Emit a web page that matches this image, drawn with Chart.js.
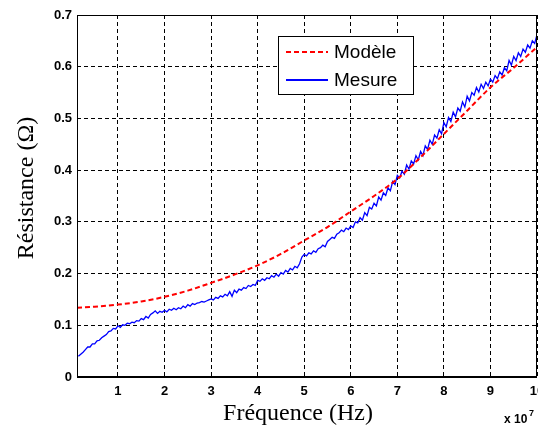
<!DOCTYPE html>
<html>
<head>
<meta charset="utf-8">
<title>Résistance en fonction de la fréquence</title>
<script src="https://cdn.jsdelivr.net/npm/chart.js@4.4.1/dist/chart.umd.min.js"></script>
<style>
  html, body { margin: 0; padding: 0; background: #fff; }
  #wrap { width: 538px; height: 430px; }
</style>
</head>
<body>
<div id="wrap"><canvas id="chartRes" width="538" height="430"></canvas></div>
<script>
// frequencies in units of 1e7 Hz, resistance in ohm
const modeleFreq = [0.12, 0.5, 1, 1.5, 2, 2.5, 3, 3.5, 4, 4.5, 5, 5.5, 6, 6.5, 7, 7.5, 8, 8.5, 9, 9.5, 10];
const modeleRes = [0.134, 0.136, 0.140, 0.146, 0.155, 0.167, 0.182, 0.198, 0.216, 0.238, 0.264, 0.290, 0.320, 0.350, 0.383, 0.425, 0.470, 0.515, 0.560, 0.598, 0.638];

const mesureFreq = [
  0.15, 0.20, 0.25, 0.30, 0.35, 0.40, 0.45, 0.50, 0.55, 0.60, 0.65, 0.70, 0.75, 0.80, 0.85, 0.90, 0.95, 1.00,
  1.05, 1.10, 1.15, 1.20, 1.25, 1.30, 1.35, 1.40, 1.45, 1.50, 1.55, 1.60, 1.65, 1.70, 1.75, 1.80, 1.85, 1.90, 1.95, 2.00,
  2.05, 2.10, 2.15, 2.20, 2.25, 2.30, 2.35, 2.40, 2.45, 2.50, 2.55, 2.60, 2.65, 2.70, 2.75, 2.80, 2.85, 2.90, 2.95, 3.00,
  3.05, 3.10, 3.15, 3.20, 3.25, 3.30, 3.35, 3.40, 3.45, 3.50, 3.55, 3.60, 3.65, 3.70, 3.75, 3.80, 3.85, 3.90, 3.95, 4.00,
  4.05, 4.10, 4.15, 4.20, 4.25, 4.30, 4.35, 4.40, 4.45, 4.50, 4.55, 4.60, 4.65, 4.70, 4.75, 4.80, 4.85, 4.90, 4.95, 5.00,
  5.05, 5.10, 5.15, 5.20, 5.25, 5.30, 5.35, 5.40, 5.45, 5.50, 5.55, 5.60, 5.65, 5.70, 5.75, 5.80, 5.85, 5.90, 5.95, 6.00,
  6.05, 6.10, 6.15, 6.20, 6.25, 6.30, 6.35, 6.40, 6.45, 6.50, 6.55, 6.60, 6.65, 6.70, 6.75, 6.80, 6.85, 6.90, 6.95, 7.00,
  7.05, 7.10, 7.15, 7.20, 7.25, 7.30, 7.35, 7.40, 7.45, 7.50, 7.55, 7.60, 7.65, 7.70, 7.75, 7.80, 7.85, 7.90, 7.95, 8.00,
  8.05, 8.10, 8.15, 8.20, 8.25, 8.30, 8.35, 8.40, 8.45, 8.50, 8.55, 8.60, 8.65, 8.70, 8.75, 8.80, 8.85, 8.90, 8.95, 9.00,
  9.05, 9.10, 9.15, 9.20, 9.25, 9.30, 9.35, 9.40, 9.45, 9.50, 9.55, 9.60, 9.65, 9.70, 9.75, 9.80, 9.85, 9.90, 9.95, 10.00
];
const mesureRes = [
  0.040, 0.044, 0.048, 0.053, 0.058, 0.058, 0.064, 0.064, 0.070, 0.071, 0.076, 0.079, 0.082, 0.088, 0.089, 0.094, 0.093, 0.099,
  0.096, 0.101, 0.100, 0.104, 0.103, 0.106, 0.105, 0.109, 0.108, 0.113, 0.111, 0.117, 0.114, 0.121, 0.124, 0.128, 0.123, 0.127, 0.125, 0.129,
  0.126, 0.131, 0.129, 0.133, 0.130, 0.134, 0.132, 0.137, 0.134, 0.140, 0.137, 0.142, 0.140, 0.143, 0.144, 0.146, 0.145, 0.147, 0.149, 0.151,
  0.149, 0.154, 0.152, 0.157, 0.155, 0.160, 0.157, 0.165, 0.156, 0.168, 0.163, 0.170, 0.168, 0.173, 0.171, 0.177, 0.175, 0.179, 0.177, 0.187,
  0.185, 0.190, 0.187, 0.192, 0.190, 0.196, 0.193, 0.199, 0.195, 0.202, 0.199, 0.206, 0.203, 0.210, 0.207, 0.214, 0.211, 0.219, 0.232, 0.237,
  0.234, 0.240, 0.238, 0.244, 0.241, 0.248, 0.250, 0.255, 0.252, 0.262, 0.266, 0.270, 0.268, 0.276, 0.279, 0.284, 0.281, 0.288, 0.285, 0.292,
  0.289, 0.300, 0.298, 0.308, 0.303, 0.318, 0.312, 0.328, 0.325, 0.336, 0.331, 0.348, 0.342, 0.356, 0.351, 0.366, 0.360, 0.378, 0.372, 0.390,
  0.385, 0.398, 0.392, 0.410, 0.402, 0.418, 0.412, 0.428, 0.420, 0.436, 0.428, 0.447, 0.440, 0.458, 0.450, 0.468, 0.462, 0.478, 0.470, 0.492,
  0.484, 0.502, 0.494, 0.512, 0.503, 0.520, 0.514, 0.532, 0.522, 0.543, 0.534, 0.550, 0.545, 0.560, 0.551, 0.566, 0.558, 0.570, 0.563, 0.576,
  0.570, 0.583, 0.577, 0.590, 0.584, 0.598, 0.592, 0.612, 0.603, 0.620, 0.612, 0.627, 0.620, 0.634, 0.628, 0.642, 0.636, 0.650, 0.645, 0.662
];

const freqTicks = [1, 2, 3, 4, 5, 6, 7, 8, 9, 10];
const resTicks = [0, 0.1, 0.2, 0.3, 0.4, 0.5, 0.6, 0.7];

const toPoints = (xs, ys) => xs.map((x, i) => ({ x: x, y: ys[i] }));

// cadre, légende, titres des axes et "x 10^7" dessinés à la main
const habillage = {
  id: "habillage",
  afterDatasetsDraw(chart) {
    const { ctx, chartArea: a } = chart;
    ctx.save();
    ctx.strokeStyle = "#000";
    ctx.lineWidth = 1;
    ctx.setLineDash([]);
    ctx.strokeRect(a.left + 0.5, a.top + 0.5, a.right - a.left - 1, a.bottom - a.top);
    ctx.lineWidth = 2;
    ctx.beginPath();
    ctx.moveTo(a.left, a.bottom);
    ctx.lineTo(a.right, a.bottom);
    ctx.stroke();

    // légende
    ctx.fillStyle = "#fff";
    ctx.fillRect(278, 36, 135, 58);
    ctx.lineWidth = 1;
    ctx.strokeStyle = "#000";
    ctx.strokeRect(278.5, 36.5, 135, 58);
    const rows = [52, 80];
    chart.data.datasets.forEach((ds, i) => {
      ctx.strokeStyle = ds.borderColor;
      ctx.lineWidth = 2;
      ctx.setLineDash(ds.borderDash || []);
      ctx.beginPath();
      ctx.moveTo(286, rows[i]);
      ctx.lineTo(328, rows[i]);
      ctx.stroke();
      ctx.setLineDash([]);
      ctx.fillStyle = "#000";
      ctx.font = "19px 'Liberation Sans', Arial, sans-serif";
      ctx.textBaseline = "middle";
      ctx.textAlign = "left";
      ctx.fillText(ds.label, 334, rows[i] + 1);
    });
    ctx.restore();
  },
  afterDraw(chart) {
    const { ctx } = chart;
    ctx.save();
    ctx.fillStyle = "#000";
    ctx.font = "24px 'Liberation Serif', 'Times New Roman', serif";
    ctx.textAlign = "center";
    ctx.textBaseline = "alphabetic";
    ctx.fillText("Fréquence (Hz)", 298, 420);

    ctx.translate(33, 188);
    ctx.rotate(-Math.PI / 2);
    ctx.fillText("Résistance (Ω)", 0, 0);
    ctx.setTransform(1, 0, 0, 1, 0, 0);

    ctx.font = "bold 12px 'Liberation Sans', Arial, sans-serif";
    ctx.textAlign = "left";
    ctx.fillText("x 10", 504, 423);
    ctx.font = "bold 9px 'Liberation Sans', Arial, sans-serif";
    ctx.fillText("7", 529, 416);
    ctx.restore();
  }
};

const tickFont = { family: "'Liberation Sans', Arial, sans-serif", size: 13, weight: "bold" };
const gridStyle = { color: "#000", lineWidth: 1, drawTicks: false };

new Chart(document.getElementById("chartRes"), {
  type: "line",
  data: {
    datasets: [
      {
        label: "Modèle",
        data: toPoints(modeleFreq, modeleRes),
        borderColor: "#ff0000",
        borderWidth: 2,
        borderDash: [5, 3],
        pointRadius: 0,
        cubicInterpolationMode: "monotone",
        order: 0
      },
      {
        label: "Mesure",
        data: toPoints(mesureFreq, mesureRes),
        borderColor: "#0000ff",
        borderWidth: 1.3,
        pointRadius: 0,
        tension: 0,
        order: 1
      }
    ]
  },
  options: {
    responsive: false,
    animation: false,
    devicePixelRatio: 1,
    layout: { padding: { left: 0, right: 1, top: 15, bottom: 0 } },
    plugins: { legend: { display: false }, tooltip: { enabled: false } },
    scales: {
      x: {
        type: "linear",
        min: 0.12,
        max: 10,
        border: { display: false, dash: [4, 3] },
        grid: gridStyle,
        afterBuildTicks: (scale) => { scale.ticks = freqTicks.map((v) => ({ value: v })); },
        afterFit: (scale) => { scale.height = 53; scale.paddingLeft = 0; scale.paddingRight = 0; },
        ticks: { color: "#000", font: tickFont, padding: 7, maxRotation: 0, callback: (v) => String(v) }
      },
      y: {
        type: "linear",
        min: 0,
        max: 0.7,
        border: { display: false, dash: [4, 3] },
        grid: gridStyle,
        afterBuildTicks: (scale) => { scale.ticks = resTicks.map((v) => ({ value: v })); },
        afterFit: (scale) => { scale.width = 77; scale.paddingTop = 0; scale.paddingBottom = 0; },
        ticks: { color: "#000", font: tickFont, padding: 5, callback: (v) => (v === 0 ? "0" : v.toFixed(1)) }
      }
    }
  },
  plugins: [habillage]
});
</script>
</body>
</html>
